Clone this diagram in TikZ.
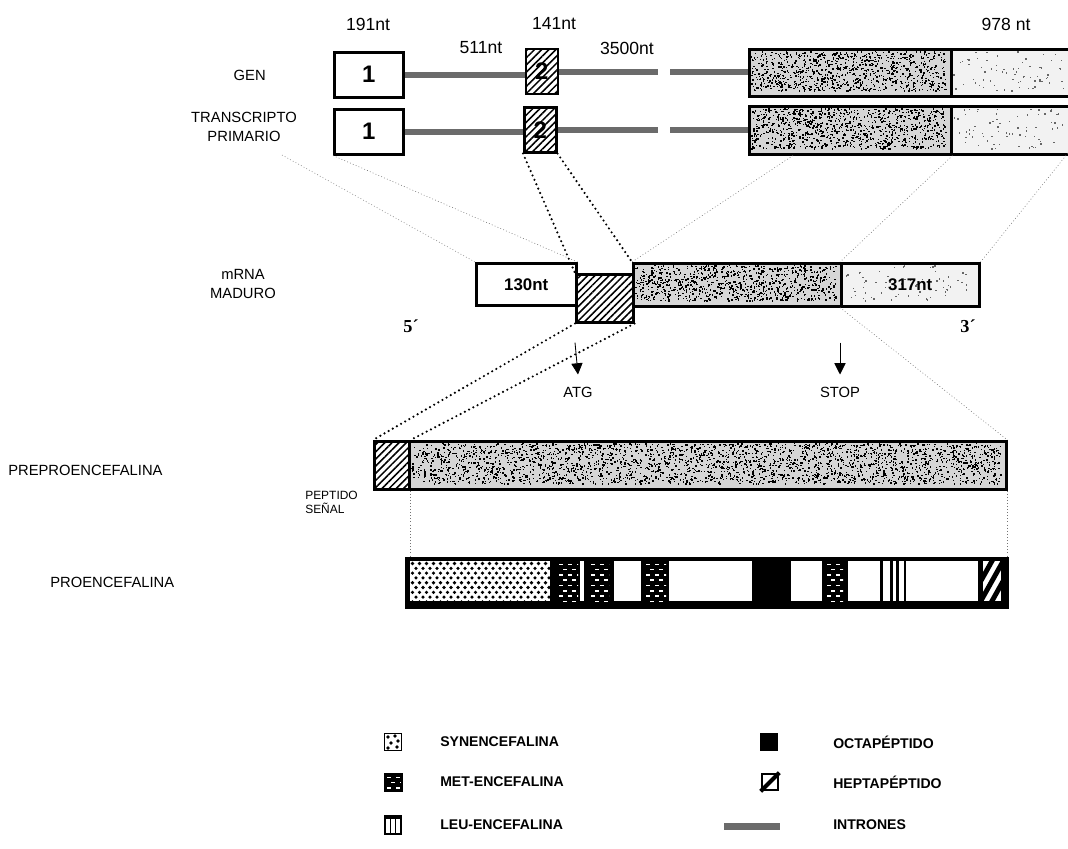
\documentclass[tikz,border=0pt]{standalone}
\usepackage{fontspec}
\setmainfont{Liberation Sans}
\newfontfamily\primefont{Liberation Serif}
\usetikzlibrary{patterns.meta,arrows.meta,calc}

\newcommand\pxu{0.025cm}

% random specks inside a rectangle: x1 y1 x2 y2 count colour
\newcommand\specks[6]{%
  \foreach \k in {1,...,#5}{%
    \pgfmathsetmacro\sx{#1+rnd*(#3-#1-1.5)}%
    \pgfmathsetmacro\sy{#2+rnd*(#4-#2-1.5)}%
    \fill[#6] (\sx,\sy) rectangle ++(1.4,1.4);}}

% met-encefalina: black with white dashes
\newcommand\metfill[4]{%
  \fill (#1,#2) rectangle (#3,#4);
  \begin{scope}
    \clip (#1,#2) rectangle (#3,#4);
    \foreach \r in {0,...,7}{%
      \pgfmathsetmacro\yy{#2+2.5+\r*5.3}%
      \pgfmathsetmacro\xo{#1+2+mod(\r,2)*4}%
      \foreach \c in {0,...,3}{%
        \fill[white] ({\xo+\c*9},\yy) rectangle ++(4,1.6);}}
  \end{scope}}

% synencefalina: white with black dots
\newcommand\synfill[4]{%
  \fill[white] (#1,#2) rectangle (#3,#4);
  \begin{scope}
    \clip (#1,#2) rectangle (#3,#4);
    \foreach \r in {0,...,8}{%
      \pgfmathsetmacro\yy{#2+2.5+\r*4.8}%
      \pgfmathsetmacro\xo{#1+2.5+mod(\r,2)*3.5}%
      \foreach \c in {0,...,20}{%
        \fill ({\xo+\c*7},\yy) circle (1.8);}}
  \end{scope}}

\begin{document}
\begin{tikzpicture}[x=\pxu, y=-\pxu,
    exon/.style={draw, line width=1.8pt, fill=white, inner sep=0pt, anchor=north west,
                 font=\bfseries\fontsize{17}{17}\selectfont},
    hatch/.style={exon, pattern={Lines[angle=45, distance=3.6pt, line width=1.1pt]}},
    coding/.style={exon, fill=black!16},
    utr/.style={exon, fill=black!5},
    intron/.style={line width=4.5pt, black!58},
    lbl/.style={font=\fontsize{10.5}{14}\selectfont, align=center, inner sep=0pt},
    ntlabel/.style={font=\fontsize{12.5}{14}\selectfont, inner sep=0pt},
    legtext/.style={font=\bfseries\fontsize{10}{12}\selectfont, anchor=west, inner sep=0pt},
    thindot/.style={line width=0.4pt, black!55, dash pattern=on 0.6pt off 1.6pt},
    thickdot/.style={line width=1.7pt, line cap=round, dash pattern=on 0pt off 3.4pt},
    arrow/.style={-{Triangle[length=8pt, width=8pt]}, line width=0.6pt},
  ]
  \useasboundingbox (0,0) rectangle (1068,849);
  \pgfmathsetseed{7}

  % sizes
  \node[ntlabel] (n191)  at (368,24) {191nt};
  \node[ntlabel] (n141)  at (554,24) {141nt};
  \node[ntlabel] (n511)  at (481,48) {511nt};
  \node[ntlabel] (n3500) at (627,48) {3500nt};
  \node[ntlabel] (n978)  at (1006,24) {978 nt};

  % GEN
  \node[lbl, anchor=east] (gen) at (266,75) {GEN};
  \node[exon, minimum width=69*\pxu, minimum height=45*\pxu] (g1) at (333,51) {1};
  \node[hatch, minimum width=32*\pxu, minimum height=45*\pxu] (g2) at (525,48) {2};
  \node[coding, minimum width=202*\pxu, minimum height=47*\pxu] (g3) at (748,48) {};
  \node[utr, minimum width=130*\pxu, minimum height=47*\pxu] (g4) at (950,48) {};
  \specks{751}{51}{947}{92}{950}{black}
  \specks{953}{51}{1068}{92}{70}{black!60}
  \coordinate (gcut1) at (658,72);
  \coordinate (gcut2) at (670,72);
  \draw[intron] (g1.east) -- (g1.east -| g2.west);
  \draw[intron] (g2.east |- gcut1) -- (gcut1);
  \draw[intron] (gcut2) -- (gcut2 -| g3.west);

  % transcripto primario
  \node[lbl] (tp) at (244,127) {TRANSCRIPTO\\PRIMARIO};
  \node[exon, minimum width=69*\pxu, minimum height=45*\pxu] (t1) at (333,108) {1};
  \node[hatch, minimum width=32*\pxu, minimum height=45*\pxu] (t2) at (523,106) {2};
  \node[coding, minimum width=202*\pxu, minimum height=48*\pxu] (t3) at (748,105) {};
  \node[utr, minimum width=130*\pxu, minimum height=48*\pxu] (t4) at (950,105) {};
  \specks{751}{108}{947}{150}{950}{black}
  \specks{953}{108}{1068}{150}{70}{black!60}
  \coordinate (tcut1) at (658,130);
  \coordinate (tcut2) at (670,130);
  \draw[intron] (t1.east) -- (t1.east -| t2.west);
  \draw[intron] (t2.east |- tcut1) -- (tcut1);
  \draw[intron] (tcut2) -- (tcut2 -| t3.west);

  % mRNA maduro
  \node[lbl] (mad) at (243,284) {mRNA\\MADURO};
  \node[exon, font=\bfseries\fontsize{12}{12}\selectfont,
        minimum width=100*\pxu, minimum height=42*\pxu] (m1) at (475,262) {130nt};
  \node[coding, minimum width=208*\pxu, minimum height=43*\pxu] (m3) at (632,262) {};
  \specks{635}{265}{837}{302}{900}{black}
  \node[utr, minimum width=138*\pxu, minimum height=43*\pxu] (m4) at (840,262) {};
  \specks{843}{265}{975}{302}{70}{black!60}
  \node[font=\bfseries\fontsize{12}{12}\selectfont] (t317) at (m4.center) {317nt};
  \node[hatch, minimum width=57*\pxu, minimum height=48*\pxu] (m2) at (575,273) {};
  \node[font=\primefont\bfseries\fontsize{13}{13}\selectfont] (five) at (411,326) {5´};
  \node[font=\primefont\bfseries\fontsize{13}{13}\selectfont] (three) at (968,326) {3´};

  \coordinate (tfan) at (282,155);
  \coordinate (tend) at (1068,153);
  \draw[thindot] (tfan) -- (m1.north west);
  \draw[thindot] (t1.south west) -- (m1.north east);
  \draw[thindot] ($(t3.south west)!0.22!(t3.south east)$) -- (m3.north west);
  \draw[thindot] (t3.south east) -- (m4.north west);
  \draw[thindot] (tend) -- (m4.north east);
  \draw[thickdot] (t2.south west) -- (m2.north west);
  \draw[thickdot] (t2.south east) -- (m3.north west);

  % ATG / STOP
  \node[lbl] (atg) at (578,392) {ATG};
  \node[lbl] (stop) at (840,392) {STOP};
  \draw[arrow] ($(m2.south west)+(0,19)$) -- ($(atg.north)+(0,-12)$);
  \draw[arrow] ($(m4.south west)+(0,35)$) -- ($(stop.north)+(0,-12)$);

  % preproencefalina
  \node[lbl, anchor=west] (prepro) at (8,470) {PREPROENCEFALINA};
  \node[hatch, minimum width=35*\pxu, minimum height=48*\pxu] (p1) at (373,440) {};
  \node[coding, minimum width=597*\pxu, minimum height=48*\pxu] (p2) at (408,440) {};
  \specks{411}{443}{1002}{485}{2700}{black}
  \node[font=\fontsize{8.5}{10}\selectfont, align=left, anchor=north west, inner sep=0pt]
    (signal) at (305,491) {PEPTIDO\\SEÑAL};
  \draw[thickdot] (m2.south west) -- (p1.north west);
  \draw[thickdot] (m2.south east) -- (p1.north east);
  \draw[thindot] (m4.south west) -- (p2.north east);

  % proencefalina
  \node[lbl, anchor=west] (pro) at (50,582) {PROENCEFALINA};
  \node[draw, fill=black, line width=3pt, inner sep=0pt, anchor=north west,
        minimum width=600*\pxu, minimum height=48*\pxu] (pb) at (405,557) {};
  \synfill{410}{561}{550}{601}
  \metfill{557}{561}{578}{601}
  \fill[white] (580,561) rectangle (584,601);
  \metfill{589}{561}{609}{601}
  \fill[white] (614,561) rectangle (641,601);
  \metfill{644}{561}{666}{601}
  \fill[white] (669,561) rectangle (752,601);
  \fill[white] (791,561) rectangle (822,601);
  \metfill{825}{561}{843}{601}
  \fill[white] (848,561) rectangle (978,601);
  \fill (880,561) rectangle (883,601);
  \fill (890,561) rectangle (892.5,601);
  \fill (896,561) rectangle (898.5,601);
  \fill (903.5,561) rectangle (906,601);
  \fill[white] (983,561) rectangle (1001,601);
  \begin{scope}
    \clip (983,561) rectangle (1001,601);
    \draw[line width=3.5pt] (978,606) -- (1006,556);
    \draw[line width=3.5pt] (978,626) -- (1006,576);
    \draw[line width=3.5pt] (978,586) -- (1006,536);
  \end{scope}
  \draw[thindot] (p1.south east) -- (p1.south east |- pb.north);
  \draw[thindot] (p2.south east) -- (p2.south east |- pb.north);

  % legend
  \node[draw, fill=white, line width=1.2pt, inner sep=0pt, minimum size=17*\pxu] (isyn) at (393,742) {};
  \foreach \p in {(388,737),(395,736),(398,741),(391,743),(397,747),(388,748)}
    \fill \p circle (1.8);
  \node[legtext] (tsyn) at (440,742) {SYNENCEFALINA};
  \metfill{385}{774}{402}{791}
  \node[draw, line width=1.2pt, inner sep=0pt, minimum size=17*\pxu] (imet) at (393.5,782.5) {};
  \node[legtext] (tmet) at (440,782) {MET-ENCEFALINA};
  \node[draw, line width=1.2pt, inner sep=0pt, minimum size=16*\pxu] (ileu) at (393,826) {};
  \draw[line width=2.5pt] (ileu.north west) -- (ileu.north east);
  \draw[line width=1.2pt] ($(ileu.north)+(-2.5,0)$) -- ($(ileu.south)+(-2.5,0)$);
  \draw[line width=1.2pt] ($(ileu.north)+(2.5,0)$) -- ($(ileu.south)+(2.5,0)$);
  \node[legtext] (tleu) at (440,825) {LEU-ENCEFALINA};

  \node[fill=black, inner sep=0pt, minimum size=18*\pxu] (iocta) at (769,742) {};
  \node[legtext] (tocta) at (833,742) {OCTAPÉPTIDO};
  \node[draw, fill=white, line width=1.8pt, inner sep=0pt, minimum size=16*\pxu] (ihep) at (770,782) {};
  \draw[line width=3pt] (ihep.south west) -- (ihep.north east);
  \node[legtext] (thep) at (833,782) {HEPTAPÉPTIDO};
  \node[fill=black!58, inner sep=0pt, minimum width=56*\pxu, minimum height=7*\pxu] (iint) at (752,826) {};
  \node[legtext] (tint) at (833,825) {INTRONES};
\end{tikzpicture}
\end{document}
